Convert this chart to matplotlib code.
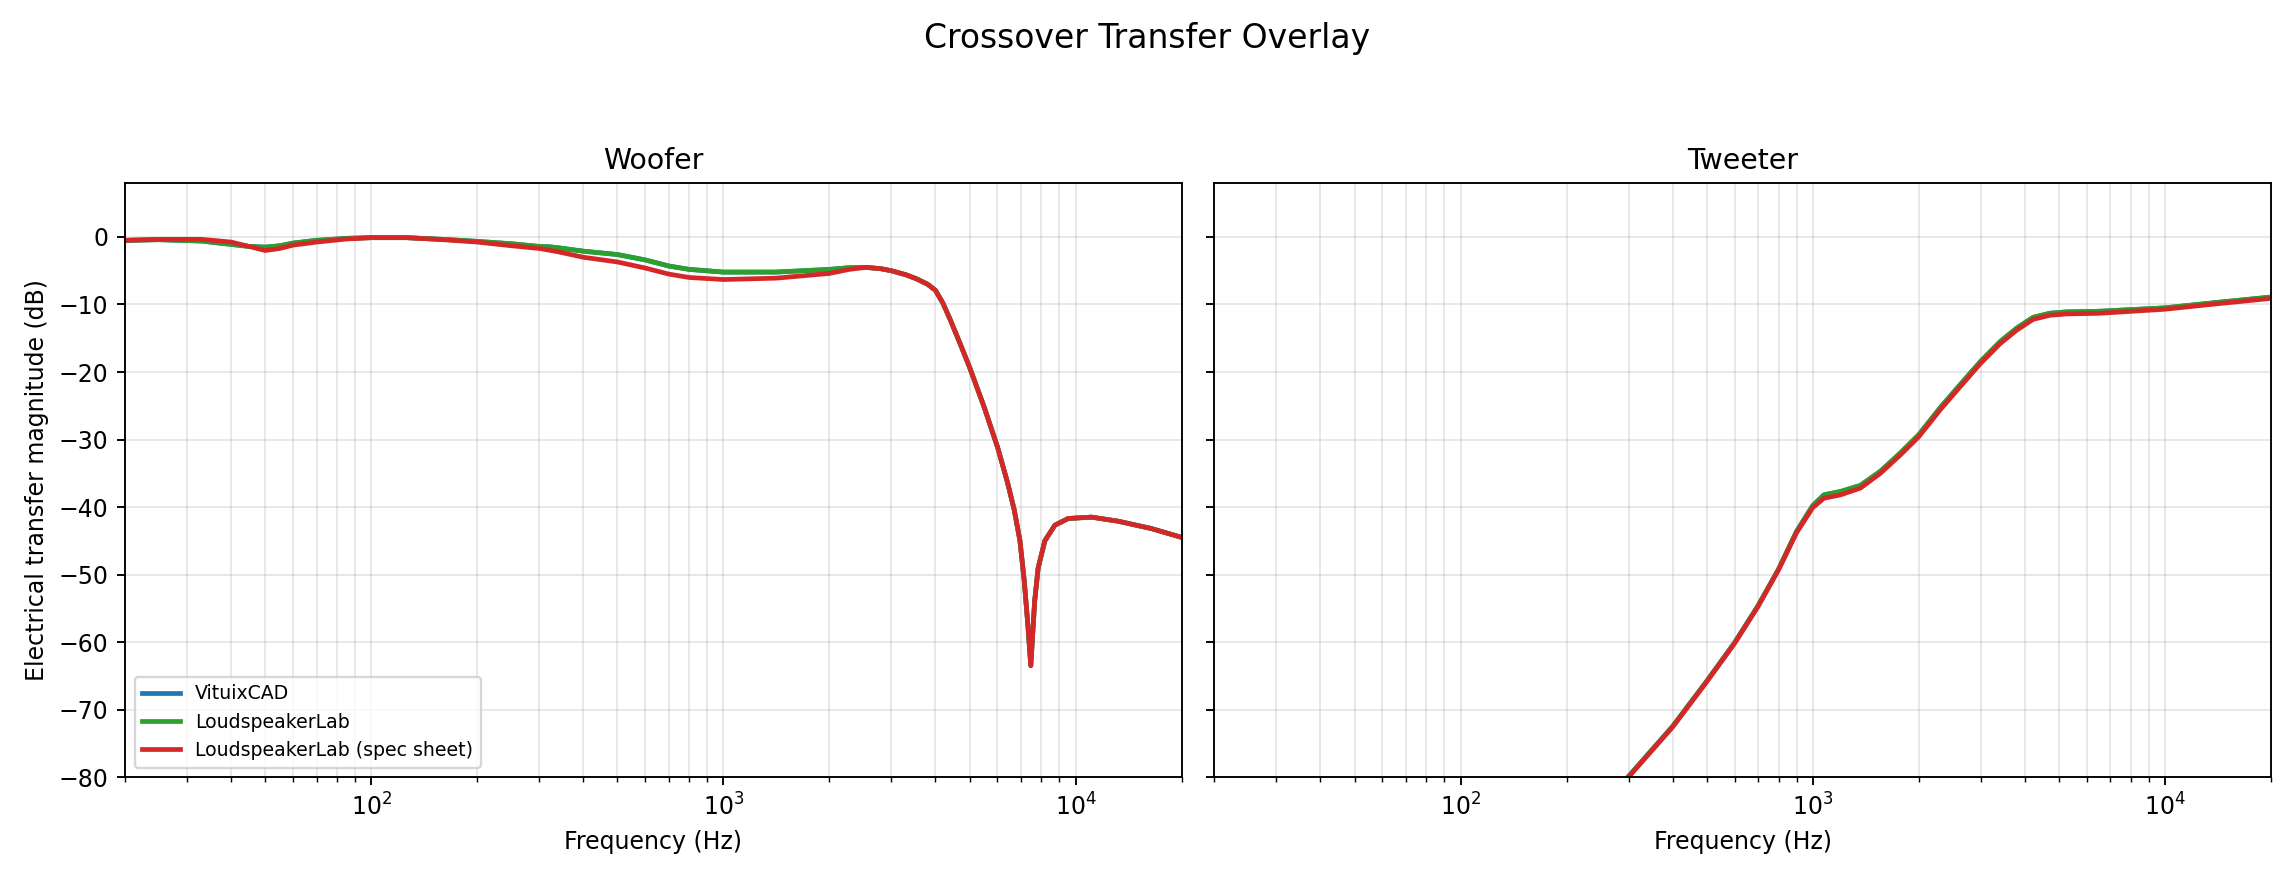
import matplotlib
matplotlib.use("Agg")
import matplotlib.pyplot as plt

# ---- Woofer data (Hz, dB) ----
woofer_freq = [20, 25, 33, 40, 45, 50, 55, 60, 70, 85, 100, 126, 160, 200, 250, 300, 320, 340,
               400, 500, 600, 700, 800, 1000, 1410, 2000, 2275, 2540, 2800, 3000, 3300, 3535,
               3800, 4000, 4200, 4410, 4700, 5000, 5500, 6000, 6410, 6700, 6950, 7150, 7320,
               7460, 7650, 7830, 8180, 8730, 9530, 11100, 13200, 16440, 20000]
woofer_green = [-0.5, -0.4, -0.6, -1.1, -1.4, -1.5, -1.3, -0.9, -0.5, -0.2, -0.1, -0.1, -0.35,
                -0.65, -1.0, -1.4, -1.45, -1.6, -2.1, -2.6, -3.4, -4.3, -4.8, -5.2, -5.2, -4.8,
                -4.55, -4.5, -4.7, -5.0, -5.6, -6.2, -7.0, -7.9, -9.8, -12.3, -15.8, -19.3,
                -25.2, -31.1, -36.4, -40.5, -45.0, -51.0, -57.5, -63.5, -54.0, -49.0, -45.0,
                -42.7, -41.7, -41.5, -42.1, -43.2, -44.5]
woofer_red = [-0.5, -0.35, -0.35, -0.75, -1.4, -2.0, -1.7, -1.2, -0.75, -0.3, -0.1, -0.1, -0.4,
              -0.75, -1.3, -1.7, -1.95, -2.2, -3.0, -3.7, -4.6, -5.5, -6.0, -6.3, -6.1, -5.4,
              -4.8, -4.5, -4.7, -5.0, -5.6, -6.2, -7.0, -7.9, -9.8, -12.3, -15.8, -19.3,
              -25.2, -31.1, -36.4, -40.5, -45.0, -51.0, -57.5, -63.5, -54.0, -49.0, -45.0,
              -42.7, -41.7, -41.5, -42.1, -43.2, -44.5]
woofer_blue = woofer_green

# ---- Tweeter data (Hz, dB) ----
tweeter_freq = [20, 50, 100, 200, 300, 400, 500, 600, 700, 800, 900, 1000, 1076, 1200, 1366,
                1557, 1773, 2000, 2301, 2620, 3000, 3405, 3795, 4227, 4710, 5250, 6530, 10000,
                14020, 20000]
tweeter_red = [-140, -118, -104, -90, -80, -72.6, -65.9, -60.2, -54.7, -49.3, -43.8, -40.1,
               -38.7, -38.2, -37.2, -35.0, -32.3, -29.6, -25.6, -22.2, -18.7, -15.8, -13.8,
               -12.2, -11.6, -11.4, -11.3, -10.7, -9.9, -9.1]
tweeter_green = [-140, -118, -104, -90, -79.9, -72.5, -65.8, -60.1, -54.6, -49.2, -43.6, -39.8,
                 -38.2, -37.7, -36.8, -34.7, -32.0, -29.3, -25.3, -21.9, -18.4, -15.5, -13.5,
                 -11.9, -11.3, -11.1, -11.0, -10.5, -9.7, -8.9]
tweeter_blue = tweeter_green

series_labels = ["VituixCAD", "LoudspeakerLab", "LoudspeakerLab (spec sheet)"]
series_colors = ["#1f77b4", "#2ca02c", "#d62728"]

fig, axes = plt.subplots(1, 2, figsize=(13.5, 5.2), dpi=170, sharey=True)
fig.subplots_adjust(left=0.0545, right=0.9895, top=0.793, bottom=0.121, wspace=0.031)

panels = [
    ("Woofer", woofer_freq, [woofer_blue, woofer_green, woofer_red]),
    ("Tweeter", tweeter_freq, [tweeter_blue, tweeter_green, tweeter_red]),
]
for ax, (title, freq, ys) in zip(axes, panels):
    for y, lab, col in zip(ys, series_labels, series_colors):
        ax.plot(freq, y, color=col, lw=2, label=lab)
    ax.set_xscale("log")
    ax.set_xlim(20, 20000)
    ax.set_ylim(-80, 8)
    ax.set_title(title, fontsize=12)
    ax.set_xlabel("Frequency (Hz)", fontsize=10)
    ax.grid(True, which="both", alpha=0.3)

axes[0].set_ylabel("Electrical transfer magnitude (dB)", fontsize=10)
axes[0].legend(loc="lower left", fontsize=8)
fig.suptitle("Crossover Transfer Overlay", fontsize=14, y=0.975)

fig.savefig("out.png", dpi=170)
